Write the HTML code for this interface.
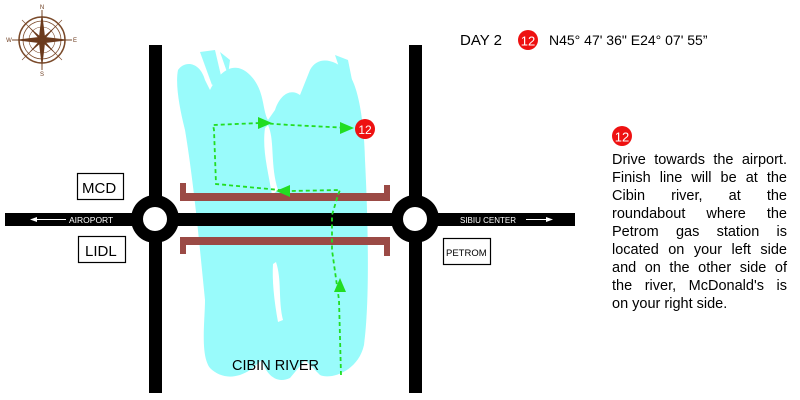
<!DOCTYPE html>
<html><head><style>
body{margin:0;background:#fff;}
svg{display:block;}
.t{font-family:"Liberation Sans",Arial,sans-serif;}
#desc{position:absolute;left:612px;top:151px;width:175px;font-family:"Liberation Sans",Arial,sans-serif;font-size:14.5px;line-height:18px;color:#000;}
#desc div{text-align:justify;text-align-last:justify;white-space:nowrap;height:18px;}
#desc div.l{text-align-last:left;}
</style></head><body>
<div style="position:relative;width:800px;height:400px;overflow:hidden">
<svg width="800" height="400" viewBox="0 0 800 400">
<g stroke="#7a4a2a" fill="none">
<circle cx="42" cy="40" r="23" stroke-width="1.5"/>
<circle cx="42" cy="40" r="19" stroke-width="0.8"/>
<circle cx="42" cy="40" r="13" stroke-width="0.6"/>
<line x1="12" y1="40" x2="72" y2="40" stroke-width="1"/>
<line x1="42" y1="10" x2="42" y2="70" stroke-width="1"/>
<line x1="22" y1="20" x2="62" y2="60" stroke-width="0.6"/>
<line x1="62" y1="20" x2="22" y2="60" stroke-width="0.6"/>
</g>
<g fill="#6b3a1c">
<polygon points="42,12 45,37 42,40 39,37"/>
<polygon points="42,68 45,43 42,40 39,43"/>
<polygon points="14,40 39,37 42,40 39,43"/>
<polygon points="70,40 45,37 42,40 45,43"/>
<polygon points="28,26 42,38 40,40"/>
<polygon points="56,54 42,42 44,40"/>
<polygon points="56,26 42,38 44,40"/>
<polygon points="28,54 42,42 40,40"/>
</g>
<g class="t" font-size="6" fill="#6b3a1c" text-anchor="middle">
<text x="42" y="9">N</text><text x="42" y="76">S</text><text x="9" y="42">W</text><text x="75" y="42">E</text>
</g>
<g fill="#99fbfb">
<path d="M178,70 C185,60 200,62 205,80 L210,90 C220,70 235,60 250,75 C265,90 262,110 268,120 L275,110 C280,95 290,88 300,95 L310,70 C318,55 335,60 345,70 C358,80 364,120 365,160 C368,220 370,300 364,345 C358,372 330,380 320,375 L305,360 L290,378 C275,385 265,372 262,360 L250,370 C235,380 220,378 210,368 C200,355 205,320 205,300 L200,250 C195,200 190,160 185,130 C180,110 175,85 178,70 Z"/>
<path d="M200,52 L215,50 L222,80 L212,85 Z"/>
<path d="M220,52 L230,60 L228,75 Z"/>
<path d="M335,55 L348,60 L352,80 L340,70 Z"/>
</g>
<g fill="#fff">
<path d="M268,125 C275,140 270,165 278,190 L272,195 C268,170 262,150 265,128 Z"/>
<path d="M276,262 C282,280 278,300 283,320 L278,322 C274,300 272,280 273,264 Z"/>
</g>
<g fill="#9b4a45">
<rect x="180" y="193" width="210" height="8"/>
<rect x="180" y="183" width="6" height="18"/>
<rect x="384" y="185" width="6" height="16"/>
<rect x="180" y="237" width="210" height="8"/>
<rect x="180" y="237" width="6" height="17"/>
<rect x="384" y="237" width="6" height="19"/>
</g>
<g fill="#000">
<rect x="149" y="45" width="13" height="348"/>
<rect x="409" y="45" width="13" height="348"/>
<rect x="5" y="213" width="570" height="13"/>
<circle cx="155" cy="219" r="24"/>
<circle cx="415" cy="219" r="24"/>
</g>
<circle cx="155" cy="219" r="12" fill="#fff"/>
<circle cx="415" cy="219" r="12" fill="#fff"/>
<g stroke="#fff" stroke-width="1" fill="#fff">
<line x1="34" y1="219.5" x2="66" y2="219.5"/>
<polygon points="30,219.5 37,217 37,222" stroke="none"/>
<line x1="526" y1="219.5" x2="548" y2="219.5"/>
<polygon points="553,219.5 546,217 546,222" stroke="none"/>
</g>
<text class="t" x="69" y="223" font-size="8.5" fill="#fff">AIROPORT</text>
<text class="t" x="460" y="223" font-size="8" fill="#fff">SIBIU CENTER</text>
<g fill="#fff" stroke="#000" stroke-width="1.2">
<rect x="77.5" y="173.5" width="46" height="26"/>
<rect x="78.5" y="236.5" width="47" height="26"/>
<rect x="443.5" y="238.5" width="47" height="26"/>
</g>
<text class="t" x="82" y="193" font-size="15">MCD</text>
<text class="t" x="85" y="256" font-size="15">LIDL</text>
<text class="t" x="446" y="256" font-size="9.5">PETROM</text>
<text class="t" x="232" y="370" font-size="14.5">CIBIN RIVER</text>
<g stroke="#22dd22" stroke-width="1.8" fill="none" stroke-dasharray="4,3">
<path d="M341,375 L339,300 L332,250 L332,215 L338,195 L340,190 L290,191 L216,184 L214,130 L213,125 L260,123 L290,125 L350,128"/>
</g>
<g fill="#22dd22">
<polygon points="340,278 334,292 346,292"/>
<polygon points="276,191 290,185 290,197"/>
<polygon points="272,123 258,117 258,129"/>
<polygon points="354,128 340,122 340,134"/>
</g>
<circle cx="365" cy="129" r="10" fill="#ee1111"/>
<text class="t" x="365" y="134" font-size="12" fill="#fff" text-anchor="middle">12</text>
<text class="t" x="460" y="45" font-size="15">DAY 2</text>
<circle cx="528" cy="40" r="10" fill="#ee1111"/>
<text class="t" x="528" y="45.5" font-size="13" fill="#fff" text-anchor="middle">12</text>
<text class="t" x="549" y="45" font-size="14">N45° 47' 36" E24° 07' 55”</text>
<circle cx="622" cy="136" r="10" fill="#ee1111"/>
<text class="t" x="622" y="141.5" font-size="13" fill="#fff" text-anchor="middle">12</text>
</svg>
<div id="desc">
<div>Drive towards the airport.</div>
<div>Finish line will be at the</div>
<div>Cibin river, at the</div>
<div>roundabout where the</div>
<div>Petrom gas station is</div>
<div>located on your left side</div>
<div>and on the other side of</div>
<div>the river, McDonald's is</div>
<div class="l">on your right side.</div>
</div>
</div>
</body></html>
